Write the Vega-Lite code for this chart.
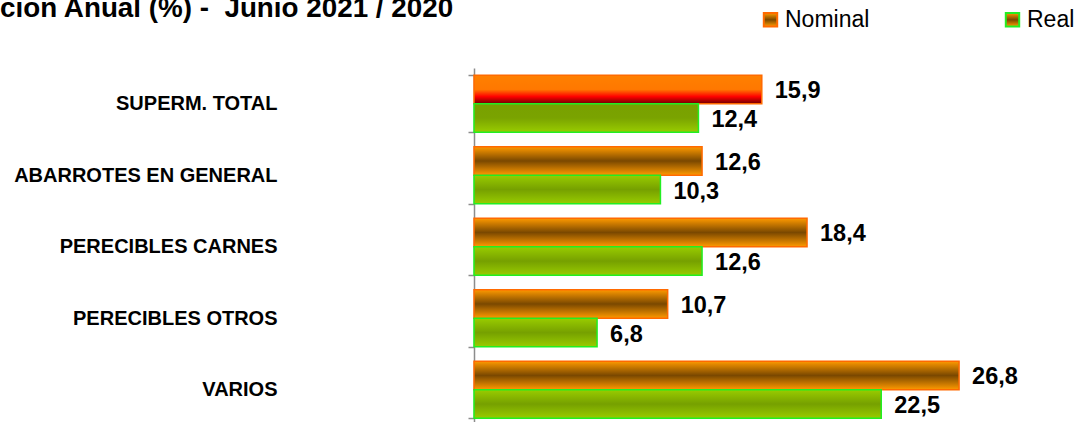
{
  "$schema": "https://vega.github.io/schema/vega-lite/v6.json",
  "width": 543,
  "height": 354,
  "autosize": {"type": "none"},
  "padding": {"left": 474, "top": 68, "right": 59, "bottom": 0},
  "background": "white",
  "title": {
    "text": "cion Anual (%) -\u00a0 Junio 2021 / 2020",
    "anchor": "start",
    "frame": "group",
    "font": "Liberation Sans",
    "fontSize": 27.8,
    "fontWeight": "bold",
    "color": "#000000",
    "dx": -474,
    "offset": -15
  },
  "config": {
    "view": {"stroke": null},
    "locale": {"number": {"decimal": ",", "thousands": ".", "grouping": [3], "currency": ["", ""]}}
  },
  "data": {
    "values": [
      {"cat": "SUPERM. TOTAL", "series": "Nominal", "value": 15.9},
      {"cat": "SUPERM. TOTAL", "series": "Real", "value": 12.4},
      {"cat": "ABARROTES EN GENERAL", "series": "Nominal", "value": 12.6},
      {"cat": "ABARROTES EN GENERAL", "series": "Real", "value": 10.3},
      {"cat": "PERECIBLES CARNES", "series": "Nominal", "value": 18.4},
      {"cat": "PERECIBLES CARNES", "series": "Real", "value": 12.6},
      {"cat": "PERECIBLES OTROS", "series": "Nominal", "value": 10.7},
      {"cat": "PERECIBLES OTROS", "series": "Real", "value": 6.8},
      {"cat": "VARIOS", "series": "Nominal", "value": 26.8},
      {"cat": "VARIOS", "series": "Real", "value": 22.5}
    ]
  },
  "encoding": {
    "y": {
      "field": "cat",
      "type": "nominal",
      "scale": {
        "domain": ["SUPERM. TOTAL", "ABARROTES EN GENERAL", "PERECIBLES CARNES", "PERECIBLES OTROS", "VARIOS"],
        "range": [0, 357.5],
        "paddingInner": 0.2,
        "paddingOuter": 0.1
      },
      "axis": {
        "title": null,
        "grid": false,
        "domainColor": "#8c8c8c",
        "domainWidth": 1.5,
        "tickColor": "#8c8c8c",
        "tickWidth": 1.5,
        "tickSize": 6,
        "tickBand": "extent",
        "labelFont": "Liberation Sans",
        "labelFontSize": 20,
        "labelFontWeight": "bold",
        "labelColor": "#000000",
        "labelPadding": 191,
        "labelLimit": 400
      }
    },
    "yOffset": {
      "field": "series",
      "type": "nominal",
      "scale": {"domain": ["Nominal", "Real"], "paddingInner": 0, "paddingOuter": 0}
    },
    "x": {"field": "value", "type": "quantitative", "scale": {"domain": [0, 30]}, "axis": null}
  },
  "layer": [
    {
      "transform": [{"filter": "datum.series === 'Nominal' && datum.cat !== 'SUPERM. TOTAL'"}],
      "mark": {
        "type": "bar",
        "strokeWidth": 1.5,
        "fill": {
          "gradient": "linear", "x1": 0, "y1": 0, "x2": 0, "y2": 1,
          "stops": [
            {"offset": 0, "color": "#FF9A00"},
            {"offset": 0.5, "color": "#7A4800"},
            {"offset": 1, "color": "#FF9A00"}
          ]
        }
      },
      "encoding": {
        "stroke": {
          "field": "series",
          "type": "nominal",
          "scale": {"domain": ["Nominal", "Real"], "range": ["#FF6A00", "#22EE22"]},
          "legend": {
            "title": null,
            "orient": "none",
            "legendX": 285,
            "legendY": -60,
            "direction": "horizontal",
            "columnPadding": 131,
            "symbolType": "square",
            "symbolSize": 180,
            "symbolStrokeWidth": 2,
            "labelFont": "Liberation Sans",
            "labelFontSize": 23,
            "labelColor": "#000000",
            "labelOffset": 3,
            "labelLimit": 300,
            "encode": {
              "symbols": {
                "update": {
                  "fill": {"signal": "datum.value === 'Nominal' ? '#8A5A00' : '#7DAA00'"},
                  "fillOpacity": {"value": 1},
                  "opacity": {"value": 1}
                }
              }
            }
          }
        }
      }
    },
    {
      "transform": [{"filter": "datum.series === 'Nominal' && datum.cat === 'SUPERM. TOTAL'"}],
      "mark": {
        "type": "bar",
        "strokeWidth": 1.5,
        "stroke": "#FF6A00",
        "fill": {
          "gradient": "linear", "x1": 0, "y1": 0, "x2": 0, "y2": 1,
          "stops": [
            {"offset": 0, "color": "#FF8000"},
            {"offset": 0.5, "color": "#FF7800"},
            {"offset": 0.75, "color": "#FF0000"},
            {"offset": 1, "color": "#700000"}
          ]
        }
      },
      "encoding": {}
    },
    {
      "transform": [{"filter": "datum.series === 'Real' && datum.cat !== 'SUPERM. TOTAL'"}],
      "mark": {
        "type": "bar",
        "strokeWidth": 1.5,
        "stroke": "#22EE22",
        "fill": {
          "gradient": "linear", "x1": 0, "y1": 0, "x2": 0, "y2": 1,
          "stops": [
            {"offset": 0, "color": "#99CC00"},
            {"offset": 0.5, "color": "#76A000"},
            {"offset": 1, "color": "#99CC00"}
          ]
        }
      },
      "encoding": {}
    },
    {
      "transform": [{"filter": "datum.series === 'Real' && datum.cat === 'SUPERM. TOTAL'"}],
      "mark": {
        "type": "bar",
        "strokeWidth": 1.5,
        "stroke": "#22EE22",
        "fill": {
          "gradient": "linear", "x1": 0, "y1": 0, "x2": 0, "y2": 1,
          "stops": [
            {"offset": 0, "color": "#79A000"},
            {"offset": 0.5, "color": "#7AA300"},
            {"offset": 1, "color": "#99CC00"}
          ]
        }
      },
      "encoding": {}
    },
    {
      "mark": {
        "type": "text",
        "align": "left",
        "baseline": "middle",
        "dx": 13,
        "dy": 2,
        "font": "Liberation Sans",
        "fontSize": 23.5,
        "fontWeight": "bold",
        "color": "#000000"
      },
      "encoding": {
        "text": {"field": "value", "type": "quantitative", "format": ".1f"}
      }
    }
  ]
}
